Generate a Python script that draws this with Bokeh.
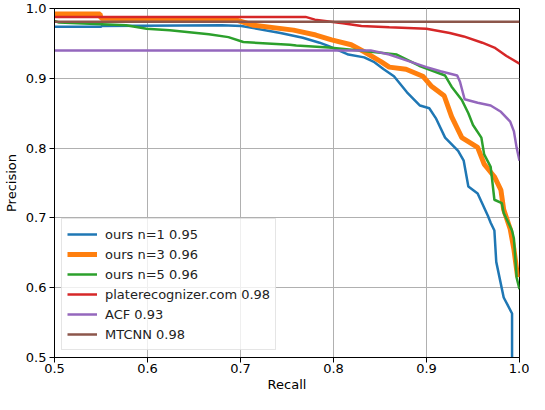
from bokeh.plotting import figure
from bokeh.models import FixedTicker
from bokeh.embed import file_html
from bokeh.resources import INLINE

# ---- data ----
ticks = [0.5, 0.6, 0.7, 0.8, 0.9, 1.0]
tick_labels = ["0.5", "0.6", "0.7", "0.8", "0.9", "1.0"]

blue_label = "ours n=1 0.95"
blue_x = [0.5, 0.55, 0.551, 0.68, 0.701, 0.743, 0.767, 0.785, 0.795, 0.816, 0.833, 0.844,
          0.854, 0.865, 0.879, 0.893, 0.903, 0.910, 0.920, 0.934, 0.940, 0.945, 0.955, 0.966,
          0.969, 0.973, 0.975, 0.983, 0.992, 0.992]
blue_y = [0.974, 0.974, 0.975, 0.976, 0.975, 0.965, 0.958, 0.951, 0.946, 0.934, 0.930, 0.923,
          0.913, 0.903, 0.880, 0.861, 0.857, 0.843, 0.815, 0.796, 0.782, 0.745, 0.735, 0.703,
          0.693, 0.682, 0.637, 0.586, 0.563, 0.500]

orange_label = "ours n=3 0.96"
orange_x = [0.5, 0.549, 0.55, 0.694, 0.714, 0.757, 0.781, 0.798, 0.819, 0.833, 0.851, 0.860,
            0.878, 0.896, 0.905, 0.919, 0.927, 0.938, 0.955, 0.962, 0.973, 0.980, 0.983, 0.990,
            0.994, 0.998]
orange_y = [0.992, 0.992, 0.986, 0.984, 0.976, 0.969, 0.962, 0.955, 0.948, 0.938, 0.924, 0.916,
            0.913, 0.903, 0.889, 0.875, 0.845, 0.815, 0.801, 0.777, 0.759, 0.740, 0.712, 0.684,
            0.655, 0.615]

green_label = "ours n=5 0.96"
green_x = [0.5, 0.505, 0.577, 0.599, 0.624, 0.666, 0.687, 0.703, 0.753, 0.76, 0.795, 0.833,
           0.868, 0.892, 0.92, 0.927, 0.938, 0.945, 0.95, 0.959, 0.962, 0.969, 0.973, 0.981,
           0.983, 0.992, 0.994, 0.997, 1.0]
green_y = [0.982, 0.980, 0.976, 0.971, 0.969, 0.963, 0.959, 0.952, 0.948, 0.947, 0.944, 0.939,
           0.934, 0.918, 0.904, 0.888, 0.869, 0.850, 0.833, 0.815, 0.791, 0.773, 0.726, 0.721,
           0.707, 0.682, 0.670, 0.614, 0.598]

red_label = "platerecognizer.com 0.98"
red_x = [0.5, 0.77, 0.78, 0.81, 0.83, 0.86, 0.90, 0.925, 0.94, 0.96, 0.973, 0.986, 1.0]
red_y = [0.988, 0.988, 0.984, 0.979, 0.975, 0.973, 0.971, 0.965, 0.960, 0.951, 0.944, 0.932, 0.921]

purple_label = "ACF 0.93"
purple_x = [0.5, 0.84, 0.86, 0.88, 0.90, 0.915, 0.933, 0.936, 0.941, 0.955, 0.969, 0.980,
            0.990, 0.994, 0.997, 1.0]
purple_y = [0.940, 0.940, 0.934, 0.925, 0.916, 0.910, 0.904, 0.895, 0.870, 0.865, 0.861, 0.852,
            0.838, 0.824, 0.800, 0.782]

brown_label = "MTCNN 0.98"
brown_x = [0.5, 1.0]
brown_y = [0.981, 0.981]

FONT = "DejaVu Sans"

p = figure(width=529, height=394, x_range=(0.5, 1.0), y_range=(0.5, 1.0),
           output_backend="svg", toolbar_location=None,
           min_border_left=50, min_border_right=10, min_border_top=8, min_border_bottom=30)

series = [
    (blue_x, blue_y, "#1f77b4", 2.5, blue_label),
    (orange_x, orange_y, "#ff7f0e", 5, orange_label),
    (green_x, green_y, "#2ca02c", 2.5, green_label),
    (red_x, red_y, "#d62728", 2.5, red_label),
    (purple_x, purple_y, "#9467bd", 2.5, purple_label),
    (brown_x, brown_y, "#8c564b", 2.5, brown_label),
]
for xs, ys, c, w, lab in series:
    p.line(xs, ys, line_color=c, line_width=w, legend_label=lab)

p.outline_line_color = "black"
p.outline_line_width = 1

for ax in (p.xaxis, p.yaxis):
    ax.ticker = FixedTicker(ticks=ticks)
    ax.major_label_overrides = {t: l for t, l in zip(ticks, tick_labels)}
    ax.major_label_text_font = FONT
    ax.major_label_text_font_size = "13px"
    ax.major_label_text_color = "black"
    ax.axis_label_text_font = FONT
    ax.axis_label_text_font_size = "13px"
    ax.axis_label_text_font_style = "normal"
    ax.axis_label_text_color = "black"
    ax.minor_tick_line_color = None
    ax.major_tick_out = 5
    ax.major_tick_in = 0
    ax.axis_line_color = "black"

p.xaxis.major_label_standoff = 1
p.xaxis.axis_label_standoff = 1
p.yaxis.major_label_standoff = 3
p.yaxis.axis_label_standoff = 4

p.xaxis.axis_label = "Recall"
p.yaxis.axis_label = "Precision"

p.grid.grid_line_color = "#b0b0b0"
p.grid.grid_line_width = 1
p.grid.ticker = FixedTicker(ticks=ticks)

lg = p.legend[0]
lg.location = "bottom_left"
lg.margin = 7
lg.padding = 5
lg.spacing = 0
lg.label_height = 20
lg.glyph_height = 20
lg.glyph_width = 30
lg.label_standoff = 8
lg.label_text_font = FONT
lg.label_text_font_size = "13px"
lg.label_text_color = "#222222"
lg.background_fill_color = "white"
lg.background_fill_alpha = 0.8
lg.border_line_color = "#cccccc"
lg.border_line_width = 1

open("out.html", "w").write(file_html(p, INLINE))
